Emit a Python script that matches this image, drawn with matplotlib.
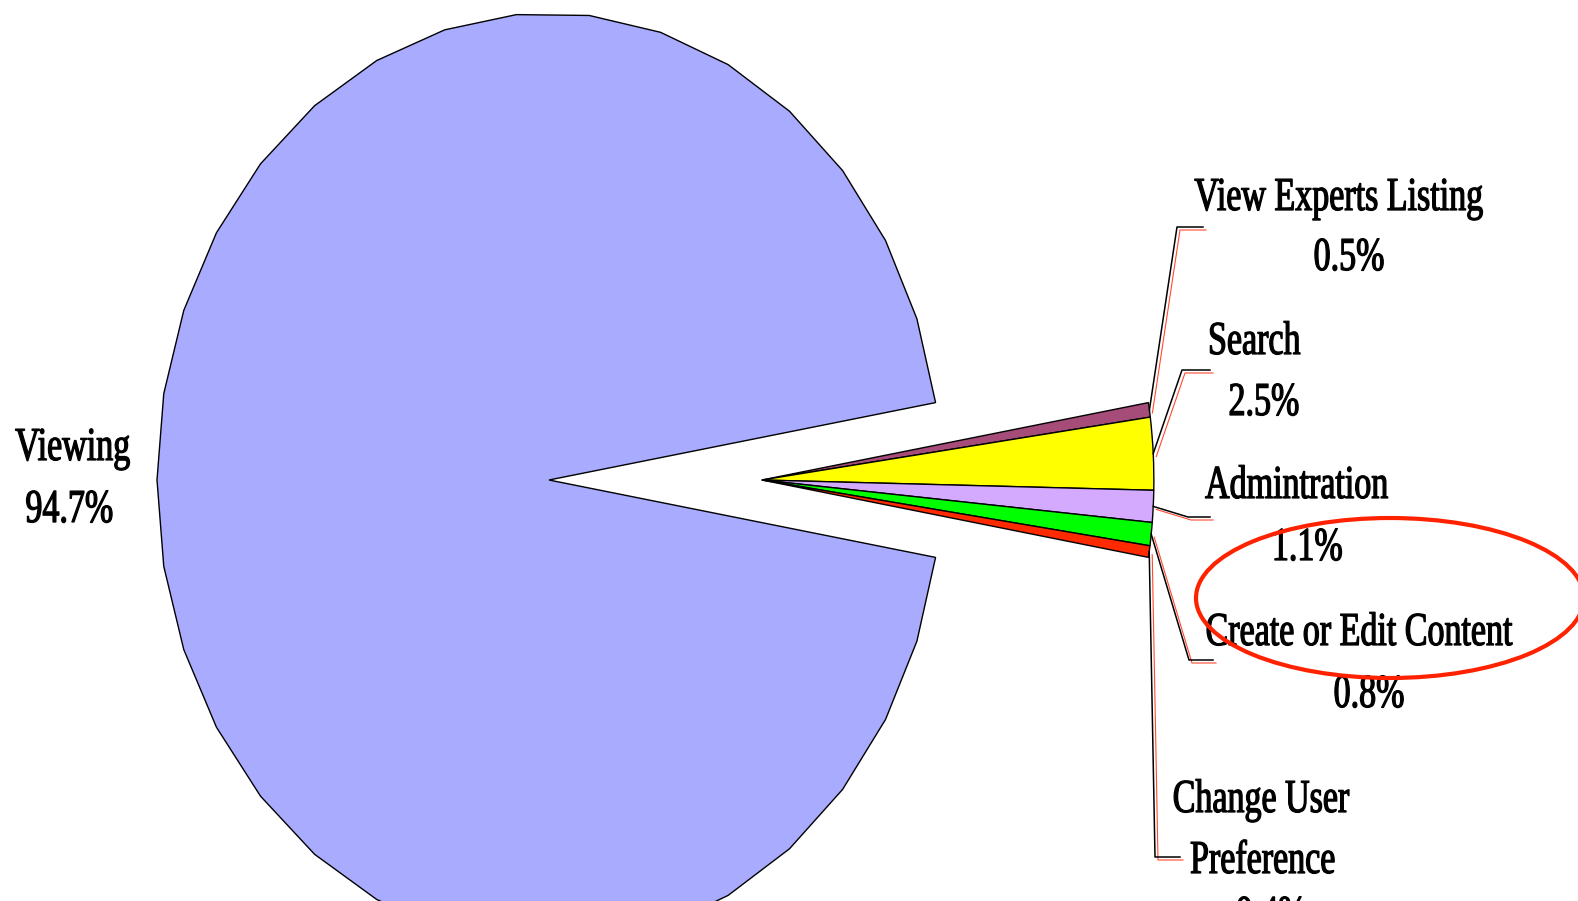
import numpy as np
import matplotlib
matplotlib.use("Agg")
import matplotlib.pyplot as plt
from matplotlib import patches, transforms, patheffects

W, H = 1578, 901

# slices, clockwise from the Viewing slice
names = ["Viewing", "View Experts Listing", "Search", "Admintration",
         "Create or Edit Content", "Change User\nPreference"]
values = [94.7, 0.5, 2.5, 1.1, 0.8, 0.4]
colors = ["#A9ABFF", "#A64C79", "#FFFF00", "#D4AAFF", "#00FF00", "#FF2A00"]

# label layout (image pixels): x of first line, baseline of each line
lab_x = [15, 1339, 1254, 1297, 1359, 1261]
lab_y = [[460, 522], [210, 270], [354, 415], [498, 560], [645, 707],
         [812, 873, 928]]
lab_ha = ["left", "center", "center", "center", "center", "center"]
# leader elbows (image pixels), None for the big slice
elbows = [None, [(1177, 227), (1203, 227)], [(1182, 370), (1210, 370)],
          [(1188, 517), (1210, 517)], [(1189, 660), (1213, 660)],
          [(1155, 857), (1180, 857)]]

start = -9.54        # degrees
explode_dx = 0.543   # small slices pushed right
cx_px, cy_px = 549, 480
rx_px, ry_px = 392, 467

plt.rcParams['font.family'] = ['Liberation Serif', 'DejaVu Serif']


class Squeeze(patheffects.AbstractPathEffect):
    # narrow the glyphs like the condensed Times of the original
    def __init__(self, sx, anchor="center", lw=0.9):
        super().__init__()
        self.sx = sx
        self.anchor = anchor
        self.lw = lw

    def draw_path(self, renderer, gc, tpath, affine, rgbFace=None):
        x0, _, x1, _ = tpath.get_extents().extents
        c = x0 if self.anchor == "left" else (x0 + x1) / 2
        sq = transforms.Affine2D().translate(-c, 0).scale(self.sx, 1).translate(c, 0)
        gc0 = renderer.new_gc()
        gc0.copy_properties(gc)
        gc0.set_linewidth(self.lw)
        gc0.set_foreground(rgbFace)
        renderer.draw_path(gc0, tpath, sq + affine, rgbFace)
        gc0.restore()


fig = plt.figure(figsize=(W / 100, H / 100), dpi=100)
ax = fig.add_axes([0, 0, 1, 1])

wp = dict(edgecolor="black", linewidth=1.0)
big, _ = ax.pie(values, colors=colors, startangle=start, counterclock=False,
                wedgeprops=wp)
for w in big:
    w.set_visible(False)
small, _ = ax.pie(values, colors=colors, startangle=start, counterclock=False,
                  center=(explode_dx, 0), wedgeprops=wp)
small[0].set_visible(False)

# the big slice is drawn as a coarse polygon, like the original
w0 = big[0]
t = np.radians(np.linspace(w0.theta1, w0.theta2, 33))
ring_pts = np.column_stack([np.cos(t), np.sin(t)]) * w0.r + np.array(w0.center)
poly = np.vstack([[w0.center], ring_pts])
ax.add_patch(patches.Polygon(poly, closed=True, facecolor=colors[0],
                             edgecolor="black", linewidth=1.0))

ax.set_aspect("auto")
ax.set_xlim(-cx_px / rx_px, (W - cx_px) / rx_px)
ax.set_ylim(-(H - cy_px) / ry_px, cy_px / ry_px)
ax.axis("off")

img = transforms.Affine2D().scale(1, -1).translate(0, H)

# leader lines from the middle of each small slice
ang = start
for i, v in enumerate(values):
    a1 = ang - v * 3.6
    mid = np.radians((ang + a1) / 2)
    ang = a1
    if elbows[i] is None:
        continue
    px, py = ax.transData.transform((explode_dx + np.cos(mid), np.sin(mid)))
    pts = [(px, H - py)] + elbows[i]
    xs = [p[0] for p in pts]
    ys = [p[1] for p in pts]
    ax.plot([x + 3 for x in xs], [y + 3 for y in ys], color="#FF4A30",
            lw=0.8, transform=img, clip_on=False)
    ax.plot(xs, ys, color="black", lw=1.1, transform=img, clip_on=False)

# labels
for i, v in enumerate(values):
    lines = names[i].split("\n") + [f"{v:.1f}%"]
    pe = [Squeeze(0.72, anchor=lab_ha[i])]
    for j, line in enumerate(lines):
        dx = 10 if j == len(lines) - 1 else 2 * j
        ax.text(lab_x[i] + dx, lab_y[i][j], line, transform=img,
                ha=lab_ha[i], va="baseline", fontsize=34, color="black",
                path_effects=pe)

# red highlight ring
ring = patches.Ellipse((1390, 598), 388, 160, fill=False, edgecolor="#FF2200",
                       linewidth=3, transform=img, zorder=5)
ax.add_artist(ring)

fig.savefig("out.png", dpi=100)
